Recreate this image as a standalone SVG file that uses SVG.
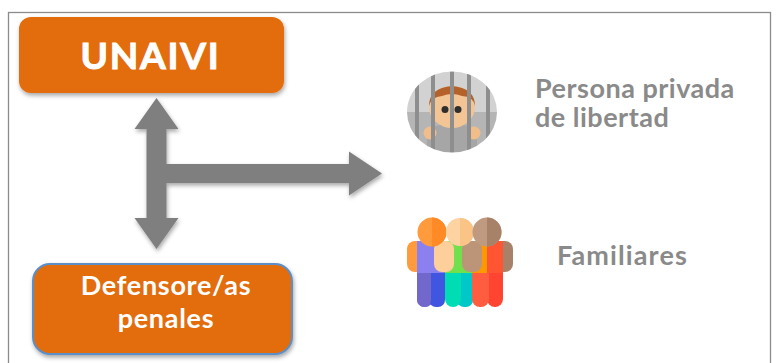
<svg xmlns="http://www.w3.org/2000/svg" width="777" height="363" viewBox="0 0 777 363">
<style>
text{font-family:Lato,"Open Sans","Liberation Sans",sans-serif;font-weight:700}
.w{fill:#fff;text-anchor:middle}
.g{fill:#8a8a8a;font-size:27px}
.box{fill:#e36c0a}
.bar{fill:#8e8e8e}
</style>
<defs>
<filter id="sh" x="-20%" y="-20%" width="140%" height="140%"><feDropShadow dx="1" dy="2.5" stdDeviation="2" flood-color="#000" flood-opacity=".35"/></filter>
<filter id="bl" x="-10%" y="-10%" width="120%" height="120%"><feGaussianBlur stdDeviation=".7"/></filter>
<clipPath id="c1"><ellipse cx="452" cy="112" rx="45" ry="40.500"/></clipPath>
</defs>
<rect x="8.500" y="12.500" width="762" height="360" fill="#fff" stroke="#8c8c8c" stroke-width="1.300"/>
<g id="connectors">
<path filter="url(#sh)" fill="#7f7f7f" d="M156.500 98L178.500 129H166.500V164H349V151.500L382 173.500L349 195.500V183H166.500V218H178.500L156.500 249L134.500 218H146.500V129H134.500Z"/>
</g>
<g id="unaivi">
<rect class="box" x="19" y="17" width="265" height="76" rx="12" filter="url(#sh)"/>
<text class="w" x="150.500" y="69" font-size="37" letter-spacing="1.800" stroke="#fff" stroke-width="1">UNAIVI</text>
</g>
<g id="defensores">
<rect class="box" x="33" y="264" width="259" height="90" rx="17" stroke="#5b8fc7" stroke-width="2" filter="url(#sh)"/>
<text class="w" x="166" y="295" font-size="27" letter-spacing=".7">Defensore/as</text>
<text class="w" x="166" y="328" font-size="27" letter-spacing=".7">penales</text>
</g>
<g id="persona">
<g clip-path="url(#c1)" filter="url(#bl)">
<rect x="405" y="70" width="94" height="84" fill="#d2d2d2"/>
<rect x="405" y="112" width="94" height="42" fill="#b5b5b5"/>
<path d="M427 156V136Q427 124 452 124Q477 124 477 136V156Z" fill="#a6a6a6"/>
<ellipse cx="452" cy="107" rx="23" ry="21" fill="#f3c595"/>
<path d="M429 106Q429 88 452 86Q475 88 475 106Q473 96 462 96Q452 92 442 96Q431 97 429 106Z" fill="#b5622a"/>
<circle cx="445" cy="109.500" r="3.500" fill="#2e2e2e"/><circle cx="458" cy="109.500" r="3.500" fill="#2e2e2e"/>
<circle cx="430" cy="133" r="6.500" fill="#f0bd8b"/>
<circle cx="474" cy="133" r="6.500" fill="#f0bd8b"/>
<rect class="bar" x="415" y="70" width="4" height="84"/><rect class="bar" x="431" y="70" width="4" height="84"/><rect class="bar" x="450" y="70" width="4" height="84"/><rect class="bar" x="467" y="70" width="4" height="84"/><rect class="bar" x="486" y="70" width="4" height="84"/>
</g>
</g>
<text class="g" id="t1" x="535" y="98" letter-spacing=".5">Persona privada</text>
<text class="g" id="t2" x="535" y="127" letter-spacing=".5">de libertad</text>
<g id="familiares" filter="url(#bl)">
<rect x="417" y="250" width="16" height="57" rx="8" fill="#7268cc"/>
<rect x="429" y="250" width="16" height="57" rx="7" fill="#4056e0"/>
<rect x="417" y="250" width="14" height="57" rx="7" fill="#7268cc"/>
<rect x="457" y="250" width="16" height="57" rx="7" fill="#00c8c8"/>
<rect x="445" y="250" width="16" height="57" rx="8" fill="#00dcb4"/>
<rect x="487" y="250" width="16" height="57" rx="8" fill="#ff4433"/>
<rect x="472" y="250" width="17" height="57" rx="8" fill="#ff5c40"/>
<rect x="407" y="241" width="20" height="31" rx="8" fill="#ff9a3c"/>
<rect x="493" y="241" width="20" height="31" rx="8" fill="#a88268"/>
<rect x="417" y="241" width="28" height="32" fill="#8a80f0"/>
<rect x="445" y="241" width="27" height="32" fill="#6fe14e"/>
<rect x="434" y="241" width="20" height="31" rx="8" fill="#fdcf9a"/>
<rect x="487" y="241" width="16" height="32" fill="#ff5533"/>
<rect x="472" y="241" width="15" height="32" fill="#ff9900"/>
<rect x="462" y="241" width="20" height="31" rx="8" fill="#bc9579"/>
<circle cx="432" cy="232" r="14.500" fill="#ff9a3c"/>
<path d="M432 217.500a14.500 14.500 0 0 1 0 29Z" fill="#ff8a28"/>
<circle cx="460" cy="232" r="14" fill="#fdd3a2"/>
<path d="M460 218a14 14 0 0 1 0 28Z" fill="#fbc487"/>
<circle cx="487" cy="232" r="14.500" fill="#c09a80"/>
<path d="M487 217.500a14.500 14.500 0 0 1 0 29Z" fill="#a88268"/>
</g>
<text class="g" id="t3" x="557" y="265" letter-spacing="1.100">Familiares</text>
</svg>
